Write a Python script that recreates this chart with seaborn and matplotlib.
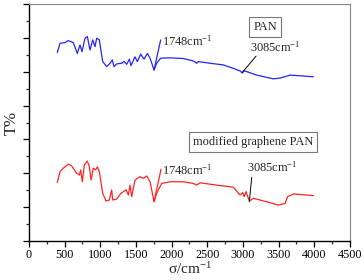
import numpy as np
import pandas as pd
import matplotlib
matplotlib.use("Agg")
import matplotlib.pyplot as plt
import seaborn as sns
from matplotlib.ticker import MultipleLocator

# ---- data ----
pan_wn = [397, 435, 505, 551, 621, 677, 715, 743, 785, 818, 855, 893, 925, 949, 986,
          1033, 1089, 1136, 1168, 1192, 1229, 1299, 1332, 1369, 1407, 1430, 1486, 1519,
          1566, 1612, 1659, 1697, 1753, 1790, 1846, 1977, 2163, 2300, 2351, 2374, 2538,
          2725, 2865, 2960, 2990, 3014, 3192, 3425, 3519, 3659, 3799, 3986]
pan_t = [55.7, 58.4, 58.6, 59.2, 58.6, 55.4, 57.9, 55.9, 59.9, 60.4, 56.4, 59.4, 57.4, 59.9, 59.4,
         53.0, 51.5, 52.5, 53.5, 51.5, 52.3, 52.5, 53.0, 52.2, 53.7, 51.8, 54.4, 53.0,
         55.2, 53.7, 55.4, 54.0, 50.5, 52.5, 54.0, 54.1, 53.9, 53.2, 52.5, 53.0, 52.5,
         52.0, 51.0, 50.2, 49.6, 50.3, 49.0, 47.9, 48.1, 49.0, 48.8, 48.5]

mod_wn = [397, 435, 481, 551, 598, 668, 706, 724, 748, 776, 818, 846, 870, 902, 935, 958, 986,
          1033, 1080, 1126, 1159, 1173, 1229, 1290, 1360, 1393, 1416, 1440, 1486, 1556, 1603,
          1650, 1697, 1753, 1790, 1860, 1977, 2163, 2304, 2351, 2397, 2631, 2865, 2935, 2958,
          2996, 3019, 3042, 3089, 3145, 3332, 3495, 3589, 3626, 3706, 3986]
mod_t = [17.3, 20.5, 21.5, 22.7, 22.2, 20.0, 19.5, 21.0, 17.5, 22.5, 23.6, 21.9, 18.0, 21.5, 21.0, 21.9, 20.5,
         14.1, 11.8, 12.1, 15.1, 12.1, 12.4, 14.1, 15.1, 13.6, 16.5, 13.1, 18.0, 19.0, 18.5,
         19.2, 17.5, 11.6, 14.1, 17.0, 17.5, 17.5, 17.0, 16.5, 17.2, 16.5, 15.9, 14.1, 13.6,
         14.3, 13.1, 14.6, 11.8, 12.6, 11.6, 10.6, 11.1, 13.1, 13.9, 13.4]

series_names = ["PAN", "modified graphene PAN"]
x_ticks = [0, 500, 1000, 1500, 2000, 2500, 3000, 3500, 4000, 4500]

df = pd.concat([
    pd.DataFrame({"wn": pan_wn, "T": pan_t, "s": series_names[0]}),
    pd.DataFrame({"wn": mod_wn, "T": mod_t, "s": series_names[1]}),
])

sns.set_style("ticks")
plt.rcParams["font.family"] = ["Liberation Serif", "DejaVu Serif"]
plt.rcParams["mathtext.fontset"] = "custom"
plt.rcParams["mathtext.rm"] = "Liberation Serif"
plt.rcParams["mathtext.it"] = "Liberation Serif:italic"

BLUE = "#2424ff"
RED = "#ff2424"

fig = plt.figure(figsize=(3.64, 2.80), dpi=100)
ax = fig.add_axes([29 / 364, 39 / 280, 321 / 364, 237 / 280])

sns.lineplot(data=df, x="wn", y="T", hue="s", palette=[BLUE, RED],
             estimator=None, sort=False, linewidth=0.9, legend=False, ax=ax)

ax.set_xlim(0, 4500)
ax.set_ylim(0, 70)
ax.set_xticks(x_ticks)
ax.set_xticklabels([str(t) for t in x_ticks])
ax.xaxis.set_minor_locator(MultipleLocator(250))
ax.yaxis.set_major_locator(MultipleLocator(10))
ax.yaxis.set_minor_locator(MultipleLocator(5))
ax.set_yticklabels([])
ax.tick_params(axis="both", which="major", direction="out", length=4, width=0.9,
               labelsize=8.7, pad=2, colors="black")
ax.tick_params(axis="both", which="minor", direction="out", length=2.5, width=0.9)
for sp in ["left", "bottom"]:
    ax.spines[sp].set_color("black")
    ax.spines[sp].set_linewidth(1.0)
for sp in ["top", "right"]:
    ax.spines[sp].set_color("#888888")
    ax.spines[sp].set_linewidth(0.8)

ax.set_xlabel(r"σ/cm$^{-1}$", fontsize=11, labelpad=0)
ax.set_ylabel("T%", fontsize=12)
ax.yaxis.set_label_coords(-0.03, 0.5)

fs = 8.9
lineprops = dict(arrowstyle="-", color="black", lw=0.7, shrinkA=0, shrinkB=0)
# PAN annotations
ax.annotate("", xy=(1753, 50.5), xytext=(1846, 59.4),
            arrowprops=dict(lineprops, color=BLUE, lw=0.9))
ax.text(1858, 59.0, r"1748cm$^{-1}$", fontsize=fs, va="center", ha="left")
ax.annotate("", xy=(2990, 49.8), xytext=(3183, 54.6), arrowprops=lineprops)
ax.text(3095, 57.3, r"3085cm$^{-1}$", fontsize=fs, va="center", ha="left")
ax.text(3309, 63.2, series_names[0], fontsize=fs, ha="center", va="center",
        bbox=dict(boxstyle="square,pad=0.3", fc="white", ec="#777777", lw=0.8))
# modified annotations
ax.annotate("", xy=(1753, 11.6), xytext=(1851, 21.2),
            arrowprops=dict(lineprops, color=RED, lw=0.9))
ax.text(1858, 20.8, r"1748cm$^{-1}$", fontsize=fs, va="center", ha="left")
ax.annotate("", xy=(3089, 11.6), xytext=(3122, 18.8), arrowprops=lineprops)
ax.text(3060, 21.8, r"3085cm$^{-1}$", fontsize=fs, va="center", ha="left")
ax.text(3140, 29.2, series_names[1], fontsize=fs, ha="center", va="center",
        bbox=dict(boxstyle="square,pad=0.3", fc="white", ec="#777777", lw=0.8))

fig.savefig("out.png", dpi=100)
